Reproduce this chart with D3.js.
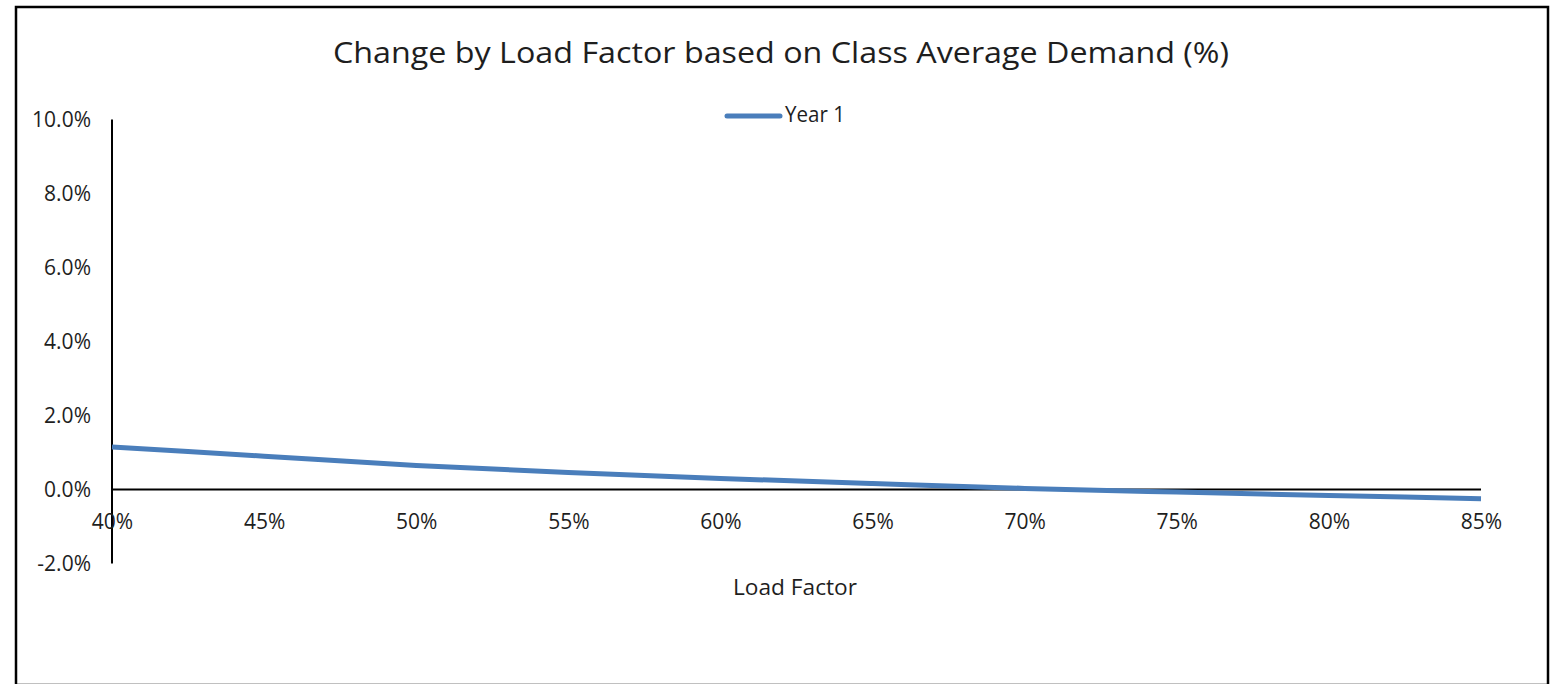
<!DOCTYPE html>
<html>
<head>
<meta charset="utf-8">
<script src="https://cdn.jsdelivr.net/npm/d3@7/dist/d3.min.js"></script>
<style>
  html, body { margin: 0; padding: 0; background: #fff; }
  svg { display: block; }
  text { font-family: "Open Sans", sans-serif; fill: #1e1e1e; }
</style>
</head>
<body>
<svg id="chart" width="1555" height="684"></svg>
<script>
// ---- data ----
const titleText = "Change by Load Factor based on Class Average Demand (%)";
const xAxisTitle = "Load Factor";
const seriesName = "Year 1";
const loadFactor = [0.40, 0.45, 0.50, 0.55, 0.60, 0.65, 0.70, 0.75, 0.80, 0.85];
const year1 = [0.0115, 0.0090, 0.0065, 0.0046, 0.0030, 0.0016, 0.0003, -0.0007, -0.0016, -0.0025];
const yTicks = [-0.02, 0.00, 0.02, 0.04, 0.06, 0.08, 0.10];
const xTicks = [0.40, 0.45, 0.50, 0.55, 0.60, 0.65, 0.70, 0.75, 0.80, 0.85];

// ---- layout ----
const svg = d3.select("#chart");
const lineColor = "#4a7ebb";

svg.append("rect")
  .attr("x", 16).attr("y", 7).attr("width", 1532).attr("height", 678)
  .attr("fill", "#fff").attr("stroke", "#000").attr("stroke-width", 2.5);

const x = d3.scaleLinear().domain([0.40, 0.85]).range([112, 1481]);
const y = d3.scaleLinear().domain([-0.02, 0.10]).range([563.5, 119.5]);

function fit(sel, w) {
  const n = sel.node();
  const len = n.getComputedTextLength();
  if (Math.abs(len - w) / w > 0.02) {
    sel.attr("textLength", w).attr("lengthAdjust", "spacingAndGlyphs");
  }
}

const pctY = d => d3.format(".1%")(d).replace("\u2212", "-");
const pctX = d => d3.format(".0%")(d);

// title
const t = svg.append("text")
  .attr("x", 781).attr("y", 63)
  .attr("text-anchor", "middle")
  .attr("font-size", 30)
  .text(titleText);
fit(t, 896);

// y axis
const yAxis = d3.axisLeft(y).tickValues(yTicks).tickSize(0).tickPadding(21)
  .tickFormat(pctY);
const gy = svg.append("g").attr("transform", `translate(${x(0.40)},0)`).call(yAxis);
gy.select(".domain").remove();
gy.selectAll("text").attr("font-size", 21).attr("font-family", "Open Sans").attr("fill", "#1e1e1e");
svg.append("line")
  .attr("x1", x(0.40)).attr("x2", x(0.40))
  .attr("y1", y(0.10)).attr("y2", y(-0.02))
  .attr("stroke", "#000").attr("stroke-width", 2);

// x axis at zero
const xAxis = d3.axisBottom(x).tickValues(xTicks).tickSize(0).tickPadding(25)
  .tickFormat(pctX);
const gx = svg.append("g").attr("transform", `translate(0,${y(0)})`).call(xAxis);
gx.select(".domain").remove();
gx.selectAll("text").attr("font-size", 21).attr("font-family", "Open Sans").attr("fill", "#1e1e1e");
svg.append("line")
  .attr("x1", x(0.40)).attr("x2", x(0.85))
  .attr("y1", y(0)).attr("y2", y(0))
  .attr("stroke", "#000").attr("stroke-width", 2);

// x axis title
const xt = svg.append("text")
  .attr("x", 795).attr("y", 595)
  .attr("text-anchor", "middle")
  .attr("font-size", 21)
  .text(xAxisTitle);
fit(xt, 124);

// series line
const line = d3.line()
  .x((d, i) => x(loadFactor[i]))
  .y(d => y(d))
  .curve(d3.curveMonotoneX);
svg.append("path")
  .datum(year1)
  .attr("d", line)
  .attr("fill", "none")
  .attr("stroke", lineColor)
  .attr("stroke-width", 5);

// legend
svg.append("line")
  .attr("x1", 727).attr("x2", 780)
  .attr("y1", 116).attr("y2", 116)
  .attr("stroke", lineColor).attr("stroke-width", 5)
  .attr("stroke-linecap", "round");
const lt = svg.append("text")
  .attr("x", 785).attr("y", 122)
  .attr("font-size", 21)
  .text(seriesName);
fit(lt, 60);
</script>
</body>
</html>
